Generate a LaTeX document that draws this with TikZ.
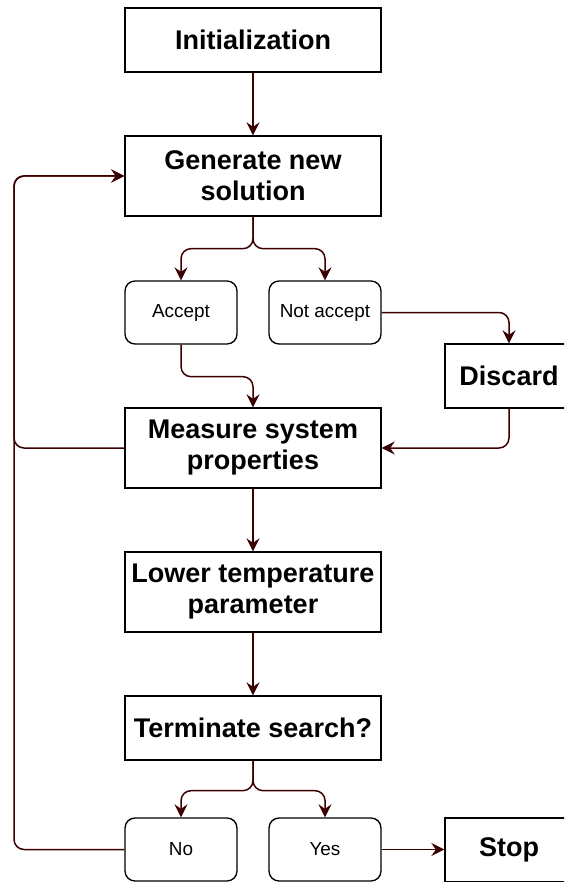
\documentclass[tikz,border=0pt]{standalone}
\usepackage{fontspec}
\setmainfont{Liberation Sans}
\usetikzlibrary{arrows.meta}
\definecolor{conn}{HTML}{3D0000}
\tikzset{
  box/.style={draw=black, line width=1.35pt, fill=white, minimum width=256pt, minimum height=80pt,
    inner sep=0pt, align=center, font=\fontsize{27}{31}\selectfont\bfseries},
  sidebox/.style={box, minimum width=128pt, minimum height=64pt},
  choice/.style={draw=black, line width=1.35pt, fill=white, rounded corners=10pt,
    minimum width=112pt, minimum height=63pt, inner sep=0pt, align=center,
    font=\fontsize{18.9}{22}\selectfont},
  link/.style={draw=conn, line width=1.5pt, rounded corners=10pt,
    -{Stealth[length=13pt,width=13pt,inset=4.5pt]}},
}
\begin{document}
\begin{tikzpicture}[x=1pt,y=-1pt]
\useasboundingbox (0,0) rectangle (564,882);
\clip (0,0) rectangle (564,882);
\node[box, minimum height=64pt] (init) at (253,40) {Initialization};
\node[box] (gen) at (253,176) {Generate new\\solution};
\node[choice] (acc) at (181,312.5) {Accept};
\node[choice] (nacc) at (325,312.5) {Not accept};
\node[sidebox] (disc) at (509,376) {Discard};
\node[box] (meas) at (253,448) {Measure system\\properties};
\node[box] (low) at (253,592) {Lower temperature\\parameter};
\node[box, minimum height=64pt] (term) at (253,728) {Terminate search?};
\node[choice] (no) at (181,849.5) {No};
\node[choice] (yes) at (325,849.5) {Yes};
\node[sidebox] (stop) at (509,850) {Stop};
\coordinate (lx) at (14,0);

\draw[link] (init) -- (gen);
\draw[link] (gen.south) -- ++(0,32) -| (acc.north);
\draw[link] (gen.south) -- ++(0,32) -| (nacc.north);
\draw[link] (nacc.east) -| (disc.north);
\draw[link] (disc.south) |- (meas.east);
\draw[link] (acc.south) -- ++(0,32) -| (meas.north);
\draw[link] (meas.west) -- (meas.west -| lx) |- (gen.west);
\draw[link] (no.west) -- (no.west -| lx) |- (gen.west);
\draw[link] (meas) -- (low);
\draw[link] (low) -- (term);
\draw[link] (term.south) -- ++(0,30) -| (no.north);
\draw[link] (term.south) -- ++(0,30) -| (yes.north);
\draw[link] (yes.east) -- (yes.east -| stop.west);
\end{tikzpicture}
\end{document}
